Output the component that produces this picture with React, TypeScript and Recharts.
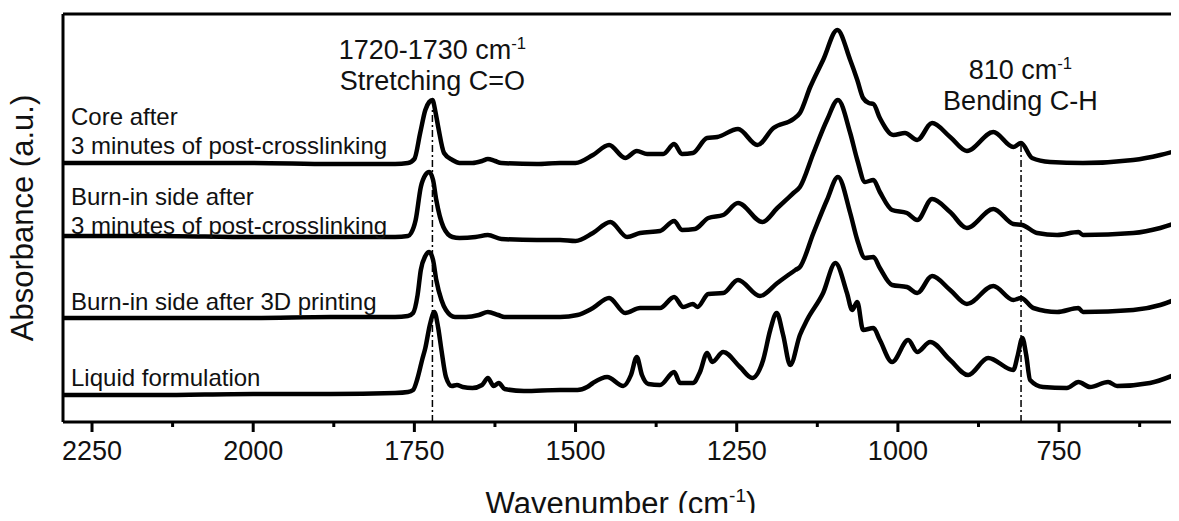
import type { ReactNode } from "react";
import { Line, LineChart, ReferenceDot, ReferenceLine, XAxis, YAxis } from "recharts";

type Pt = [number, number];

// wavenumber (cm-1), absorbance (a.u., spectra already offset)
const corePts: Pt[] = [
  [2295, 259], [2150, 259], [2000, 259], [1880, 258], [1780, 258], [1760, 259], [1750, 263], [1741, 289],
  [1733, 312], [1727, 320], [1722, 322], [1717, 309], [1713, 295], [1704, 269], [1691, 262], [1680, 259],
  [1660, 259], [1645, 261], [1636, 263], [1625, 261], [1615, 259], [1560, 258], [1524, 259], [1500, 259],
  [1473, 267], [1448, 277], [1423, 264], [1405, 271], [1389, 268], [1364, 268], [1347, 278], [1335, 268],
  [1318, 269], [1296, 284], [1280, 285], [1248, 293], [1218, 277], [1193, 294], [1162, 303], [1152, 309],
  [1136, 335], [1116, 362], [1094, 392], [1074, 362], [1063, 342], [1054, 324], [1045, 319], [1038, 318],
  [1028, 304], [1007, 287], [989, 289], [970, 282], [947, 299], [919, 285], [893, 271], [852, 290],
  [821, 275], [809, 279], [792, 264], [764, 260], [713, 259], [635, 262], [593, 267], [564, 272],
];

const burn3minPts: Pt[] = [
  [2295, 186], [2150, 186], [2000, 185], [1880, 185], [1780, 185], [1760, 186], [1755, 189], [1748, 202],
  [1740, 235], [1733, 247], [1727, 250], [1721, 242], [1716, 222], [1705, 195], [1691, 185], [1680, 184],
  [1655, 185], [1636, 187], [1615, 183], [1560, 182], [1524, 182], [1500, 181], [1473, 189], [1446, 200],
  [1420, 185], [1400, 189], [1369, 191], [1347, 201], [1335, 192], [1315, 193], [1294, 204], [1271, 207],
  [1248, 219], [1210, 200], [1187, 214], [1162, 229], [1152, 235], [1131, 269], [1110, 302], [1093, 322],
  [1074, 289], [1063, 262], [1051, 240], [1038, 242], [1028, 230], [1009, 212], [986, 209], [970, 202],
  [947, 223], [919, 210], [893, 194], [852, 213], [821, 198], [807, 197], [784, 189], [753, 187],
  [720, 190], [713, 187], [635, 189], [593, 194], [564, 200],
];

const burn3dPts: Pt[] = [
  [2295, 104], [2150, 104], [2000, 104], [1880, 105], [1780, 105], [1760, 106], [1752, 109], [1745, 127],
  [1740, 152], [1733, 166], [1727, 170], [1721, 162], [1716, 142], [1708, 122], [1701, 112], [1687, 105],
  [1670, 105], [1650, 107], [1636, 110], [1620, 107], [1610, 105], [1560, 105], [1524, 105], [1497, 107],
  [1473, 114], [1448, 124], [1423, 109], [1400, 114], [1369, 114], [1347, 125], [1333, 115], [1318, 118],
  [1311, 115], [1294, 128], [1271, 129], [1248, 142], [1214, 126], [1187, 139], [1159, 152], [1152, 155],
  [1131, 189], [1110, 222], [1093, 245], [1074, 209], [1063, 182], [1051, 164], [1038, 165], [1028, 154],
  [1009, 137], [986, 135], [970, 129], [947, 146], [919, 132], [893, 118], [852, 136], [821, 122],
  [809, 124], [790, 114], [753, 110], [720, 114], [713, 110], [635, 112], [593, 117], [564, 124],
];

const liquidPts: Pt[] = [
  [2295, 27], [2150, 27], [2000, 28], [1880, 28], [1780, 29], [1760, 30], [1752, 32], [1745, 44],
  [1738, 62], [1733, 74], [1726, 97], [1719, 110], [1713, 94], [1708, 72], [1701, 45], [1692, 36],
  [1684, 37], [1675, 35], [1660, 34], [1645, 37], [1636, 44], [1627, 36], [1619, 39], [1610, 33],
  [1580, 31], [1524, 32], [1497, 32], [1482, 35], [1473, 39], [1451, 45], [1426, 36], [1414, 47],
  [1405, 65], [1397, 47], [1387, 38], [1369, 37], [1347, 50], [1338, 39], [1318, 39], [1307, 50],
  [1296, 69], [1288, 60], [1271, 70], [1245, 55], [1226, 44], [1209, 62], [1198, 92], [1188, 109],
  [1178, 87], [1167, 57], [1152, 87], [1141, 102], [1116, 129], [1097, 159], [1079, 129], [1071, 112],
  [1063, 120], [1054, 92], [1038, 94], [1028, 82], [1009, 60], [984, 82], [970, 70], [950, 80],
  [919, 62], [891, 47], [860, 64], [821, 52], [814, 67], [807, 84], [801, 67], [795, 42],
  [775, 35], [738, 34], [720, 40], [702, 35], [674, 40], [660, 36], [609, 39], [564, 49],
];

const xTicks = [2250, 2125, 2000, 1875, 1750, 1625, 1500, 1375, 1250, 1125, 1000, 875, 750, 625];
const majorTicks = [2250, 2000, 1750, 1500, 1250, 1000, 750];

const FONT = "Arial, 'Liberation Sans', sans-serif";
const INK = "#111";

const toRows = (pts: Pt[]) => pts.map(([wn, abs]) => ({ wn, abs }));

const series = [
  { key: "core", pts: corePts },
  { key: "burn3min", pts: burn3minPts },
  { key: "burn3d", pts: burn3dPts },
  { key: "liquid", pts: liquidPts },
];

const cm = (size: number) => (
  <>
    cm<tspan dy={-size * 0.4} fontSize={size * 0.62}>-1</tspan>
  </>
);

function WaveTick(props: any) {
  const { x, y, payload } = props;
  const major = majorTicks.includes(payload.value);
  return (
    <g>
      <line x1={x} x2={x} y1={y} y2={y + (major ? 10 : 5)} stroke="#000" strokeWidth={3} />
      {major && (
        <text x={x} y={y + 38} textAnchor="middle" fontSize={27} fontFamily={FONT} fill={INK}>
          {payload.value}
        </text>
      )}
    </g>
  );
}

// text block anchored at a data point
const note =
  (lines: ReactNode[], opts: { size?: number; gap?: number; dx?: number; anchor?: "start" | "middle" } = {}) =>
  (p: any) => {
    const size = opts.size ?? 27;
    const gap = opts.gap ?? 31;
    return (
      <g>
        {lines.map((l, i) => (
          <text
            key={i}
            x={p.cx + (opts.dx ?? 0)}
            y={p.cy + i * gap + size * 0.35}
            textAnchor={opts.anchor ?? "middle"}
            fontSize={size}
            fontFamily={FONT}
            fill={INK}
          >
            {l}
          </text>
        ))}
      </g>
    );
  };

const sideLabel = (lines: string[]) => note(lines, { size: 24, gap: 29, dx: 8, anchor: "start" });

function App() {
  return (
    <div style={{ width: 1171, height: 505 }}>
      <LineChart width={1171} height={513} margin={{ top: 6, right: 0, bottom: 8, left: 0 }}>
        <XAxis
          dataKey="wn"
          type="number"
          domain={[564, 2295]}
          allowDataOverflow
          reversed
          ticks={xTicks}
          interval={0}
          tickSize={0}
          tickMargin={0}
          tickLine={false}
          tick={<WaveTick />}
          height={91}
          axisLine={{ stroke: "#000", strokeWidth: 3 }}
          label={{
            content: (p: any) => {
              const vb = p.viewBox;
              const cx = vb.x + vb.width / 2;
              return (
                <text x={cx} y={vb.y + 92} textAnchor="middle" fontSize={31} fontFamily={FONT} fill={INK}>
                  Wavenumber ({cm(31)}
                  <tspan dy={31 * 0.4}>)</tspan>
                </text>
              );
            },
          }}
        />
        <YAxis
          type="number"
          domain={[0, 408]}
          allowDataOverflow
          width={55}
          tick={false}
          tickLine={false}
          axisLine={{ stroke: "#000", strokeWidth: 3 }}
          label={{
            content: (p: any) => {
              const vb = p.viewBox;
              const cx = vb.x + 14;
              const cy = vb.y + vb.height / 2;
              return (
                <text
                  x={cx}
                  y={cy}
                  transform={`rotate(-90 ${cx} ${cy})`}
                  textAnchor="middle"
                  dominantBaseline="central"
                  fontSize={31}
                  fontFamily={FONT}
                  fill={INK}
                >
                  Absorbance (a.u.)
                </text>
              );
            },
          }}
        />
        <ReferenceLine y={408} stroke="#000" strokeWidth={3} />
        <ReferenceLine
          segment={[{ x: 1722, y: 0 }, { x: 1722, y: 312 }]}
          stroke="#000"
          strokeWidth={1.5}
          strokeDasharray="7 3 2 3"
        />
        <ReferenceLine
          segment={[{ x: 809, y: 0 }, { x: 809, y: 278 }]}
          stroke="#000"
          strokeWidth={1.5}
          strokeDasharray="7 3 2 3"
        />
        {series.map((s) => (
          <Line
            key={s.key}
            data={toRows(s.pts)}
            dataKey="abs"
            type="monotone"
            stroke="#000"
            strokeWidth={4.5}
            strokeLinejoin="round"
            dot={false}
            activeDot={false}
            isAnimationActive={false}
          />
        ))}
        <ReferenceDot x={1722} y={372} shape={note([<>1720-1730 {cm(27)}</>, "Stretching C=O"])} />
        <ReferenceDot x={810} y={352} shape={note([<>810 {cm(27)}</>, "Bending C-H"])} />
        <ReferenceDot x={2295} y={305} shape={sideLabel(["Core after", "3 minutes of post-crosslinking"])} />
        <ReferenceDot x={2295} y={225} shape={sideLabel(["Burn-in side after", "3 minutes of post-crosslinking"])} />
        <ReferenceDot x={2295} y={120} shape={sideLabel(["Burn-in side after 3D printing"])} />
        <ReferenceDot x={2295} y={44} shape={sideLabel(["Liquid formulation"])} />
      </LineChart>
    </div>
  );
}

export default App;
